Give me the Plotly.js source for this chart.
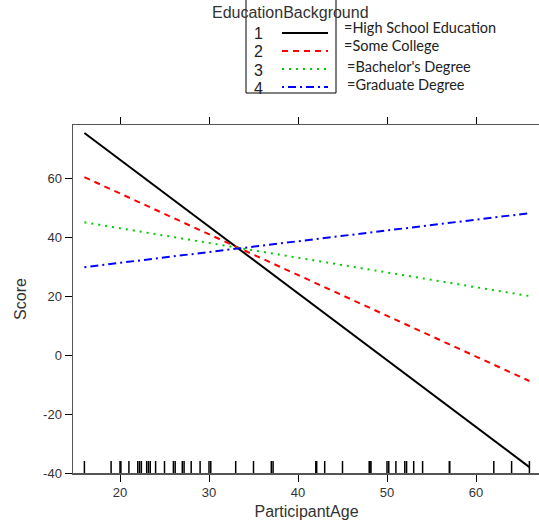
<!DOCTYPE html>
<html><head><meta charset="utf-8">
<script src="https://cdn.plot.ly/plotly-3.0.1.min.js"></script>
<style>html,body{margin:0;padding:0;overflow:hidden;background:#fff}#c{width:542px;height:525px}</style>
</head><body><div id="c"></div>
<script>
// Data
const ageEnds = [16, 66];
const highSchool = [75.3, -38.0];
const someCollege = [60.3, -8.8];
const bachelors = [45.0, 20.0];
const graduate = [29.8, 48.1];
const rugAges = [16,19,20,20.1,21,22,22.2,22.4,23,23.2,23.4,24,25,26,26.2,27,27.2,28,29,30,30.2,33,35,37,37.2,42,42.1,43,45,48,48.1,48.2,50,50.2,51,52,52.2,53,54,57,57.05,62,64,66];
const groupNums = ["1","2","3","4"];
const groupNames = ["=High School Education","=Some College","=Bachelor's Degree","=Graduate Degree"];
const xTicks = [20, 30, 40, 50, 60];
const yTicks = [-40, -20, 0, 20, 40, 60];
const colors = ["#000000","#ff0000","#00cc00","#0000ff"];
const dashes = ["solid","6px,5px","2px,5px","2px,4px,8px,4px"];

const W = 542, H = 525, L = 73, R = 2, T = 125, B = 52;
const pw = W - L - R, ph = H - T - B;
const px = x => (x - L) / pw;
const py = y => (H - B - y) / ph;

const series = [highSchool, someCollege, bachelors, graduate];
const traces = series.map((s, i) => ({
  x: ageEnds, y: s, type: 'scatter', mode: 'lines',
  line: {color: colors[i], width: 2, dash: dashes[i]}, hoverinfo: 'skip'
}));
traces.push({
  x: rugAges, y: rugAges.map(() => -38.3), type: 'scatter', mode: 'markers',
  marker: {symbol: 'line-ns-open', size: 10, color: '#000', line: {color: '#000', width: 1.5}}, hoverinfo: 'skip'
});

const shapes = [
  {type: 'path', xref: 'paper', yref: 'paper',
   path: `M ${px(246)} ${py(-2)} L ${px(246)} ${py(93)} L ${px(336)} ${py(93)} L ${px(336)} ${py(-2)}`,
   line: {color: '#000', width: 1}}
];
const fontA = 'Liberation Sans, Arial';
const annotations = [
  {text: 'EducationBackground', xref: 'paper', yref: 'paper', x: px(290), y: py(13),
   xanchor: 'center', yanchor: 'middle',
   showarrow: false, font: {family: fontA, size: 16, color: '#333'}}
];
const rowY = [33, 51, 69, 87];
const labY = [27, 46, 66, 85];
const labX = [342, 342, 345, 345];
groupNums.forEach((n, i) => {
  annotations.push({text: n, xref: 'paper', yref: 'paper', x: px(258), y: py(rowY[i] + 1),
    xanchor: 'center', yanchor: 'middle',
    showarrow: false, font: {family: fontA, size: 16, color: '#222'}});
  shapes.push({type: 'line', xref: 'paper', yref: 'paper', x0: px(282), x1: px(328), y0: py(rowY[i]), y1: py(rowY[i]),
    line: {color: colors[i], width: 2, dash: dashes[i]}});
  annotations.push({text: groupNames[i], xref: 'paper', yref: 'paper', x: px(labX[i]), y: py(labY[i]),
    xanchor: 'left', yanchor: 'middle', showarrow: false,
    font: {family: 'Lato, Open Sans, sans-serif', size: 14.5, color: '#222'}});
});

const layout = {
  width: W, height: H,
  margin: {l: L, r: R, t: T, b: B},
  paper_bgcolor: '#fff', plot_bgcolor: '#fff',
  showlegend: false,
  xaxis: {range: [20 - 47/8.9, 20 + 420/8.9], tickvals: xTicks, ticktext: xTicks.map(String), ticks: 'outside', ticklen: 7,
    tickcolor: '#000', showgrid: false, zeroline: false, showline: true, linecolor: '#555', linewidth: 1.5,
    mirror: 'ticks', tickfont: {family: fontA, size: 13, color: '#333'},
    title: {text: 'ParticipantAge', font: {family: fontA, size: 16, color: '#333'}, standoff: 6}},
  yaxis: {range: [-40, 78], tickvals: yTicks, ticktext: yTicks.map(String), ticks: 'outside', ticklen: 7,
    tickcolor: '#000', showgrid: false, zeroline: false, showline: true, linecolor: '#555', linewidth: 1.5,
    mirror: true, tickfont: {family: fontA, size: 13, color: '#333'},
    title: {text: 'Score', font: {family: fontA, size: 16, color: '#333'}, standoff: 12}},
  shapes, annotations
};
Plotly.newPlot('c', traces, layout, {staticPlot: true, displayModeBar: false});
</script></body></html>
